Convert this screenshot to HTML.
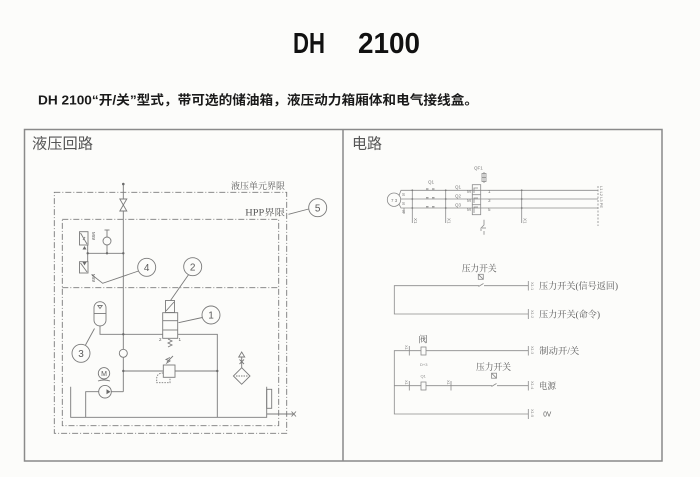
<!DOCTYPE html>
<html><head><meta charset="utf-8">
<style>
html,body{margin:0;padding:0;background:#fcfcfa;}
svg{display:block;}
</style></head>
<body>
<svg width="700" height="477" viewBox="0 0 700 477" xmlns="http://www.w3.org/2000/svg">
<rect width="700" height="477" fill="#fcfcfa"/>
<!-- Title -->
<text x="293" y="53" font-family="Liberation Sans, sans-serif" font-weight="bold" font-size="29" fill="#111" textLength="32" lengthAdjust="spacingAndGlyphs">DH</text>
<text x="358" y="53" font-family="Liberation Sans, sans-serif" font-weight="bold" font-size="29" fill="#111" textLength="62" lengthAdjust="spacingAndGlyphs">2100</text>
<!-- Subtitle -->
<text x="38" y="104.5" font-family="Liberation Sans, Noto Sans CJK SC, sans-serif" font-weight="bold" font-size="13" fill="#1a1a1a" textLength="440" lengthAdjust="spacingAndGlyphs">DH 2100“开/关”型式，带可选的储油箱，液压动力箱厢体和电气接线盒。</text>

<!-- Frame -->
<rect x="24.5" y="129.5" width="637.5" height="331.5" fill="none" stroke="#8a8a8a" stroke-width="1.5"/>
<line x1="343" y1="129.5" x2="343" y2="461" stroke="#8a8a8a" stroke-width="1.5"/>
<text x="32" y="148.3" font-family="Noto Sans CJK SC, sans-serif" font-size="15" fill="#555" textLength="61" lengthAdjust="spacingAndGlyphs">液压回路</text>
<text x="352" y="148.3" font-family="Noto Sans CJK SC, sans-serif" font-size="15" fill="#555" textLength="30" lengthAdjust="spacingAndGlyphs">电路</text>

<!-- ============ HYDRAULIC ============ -->
<g stroke="#7a7a7a" stroke-width="0.9" fill="none">
  <rect x="54.3" y="192.3" width="232.4" height="241" stroke-dasharray="6,2,1,2"/>
  <rect x="62.3" y="219.3" width="216.4" height="206.4" stroke-dasharray="6,2,1,2"/>
  <line x1="62.3" y1="287.7" x2="278.7" y2="287.7" stroke-dasharray="6,2,1,2"/>
  <circle cx="317.7" cy="207.7" r="9"/>
  <line x1="308.7" y1="209" x2="288.5" y2="214.3"/>
  <line x1="123.3" y1="184" x2="123.3" y2="199"/>
  <line x1="123.3" y1="211" x2="123.3" y2="391.7"/>
  <polygon points="119.8,199 126.8,199 123.3,205" fill="#fcfcfa"/>
  <polygon points="119.8,211 126.8,211 123.3,205" fill="#fcfcfa"/>
  <line x1="87.7" y1="253.3" x2="123.3" y2="253.3"/>
  <rect x="79.5" y="231.7" width="8.5" height="13.3"/>
  <line x1="80.5" y1="233" x2="87" y2="244"/>
  <line x1="83" y1="240" x2="85" y2="237"/>
  <line x1="87.7" y1="245" x2="87.7" y2="261.7"/>
  <rect x="79.5" y="261.7" width="8.5" height="11.3"/>
  <line x1="80.5" y1="263" x2="87" y2="272"/>
  <line x1="104.5" y1="230" x2="109.5" y2="230"/>
  <line x1="107" y1="230" x2="107" y2="237"/>
  <circle cx="107" cy="241" r="4"/>
  <line x1="107" y1="245" x2="107" y2="253.3"/>
  <circle cx="146.7" cy="267.3" r="9"/>
  <polyline points="138.5,271 102.7,283.3 91.5,274.5"/>
  <circle cx="192.7" cy="266.7" r="9"/>
  <line x1="188.5" y1="274.8" x2="170.5" y2="300.5"/>
  <rect x="165.5" y="300.5" width="9" height="12"/>
  <line x1="166" y1="311" x2="174" y2="302"/>
  <rect x="162.7" y="312.7" width="15" height="25.6" fill="#fcfcfa"/>
  <line x1="162.7" y1="320.7" x2="177.7" y2="320.7"/>
  <line x1="162.7" y1="330" x2="177.7" y2="330"/>
  <polyline points="168,339 172,341 168,343 172,345 168,347"/>
  <circle cx="211" cy="315" r="9"/>
  <line x1="202.3" y1="317.5" x2="178.5" y2="322.7"/>
  <rect x="94" y="301.7" width="12" height="24.3" rx="6" ry="6"/>
  <line x1="94" y1="313.5" x2="106" y2="313.5"/>
  <polygon points="97.8,305.5 102.2,305.5 100,308.5"/>
  <polyline points="100,326 100,334.3 162.7,334.3"/>
  <circle cx="81" cy="353.3" r="9"/>
  <line x1="85.5" y1="345" x2="94.5" y2="328.5"/>
  <polyline points="177.7,334.3 217.3,334.3 217.3,417.3"/>
  <circle cx="123.3" cy="353.3" r="4" fill="#fcfcfa"/>
  <line x1="123.3" y1="371" x2="163.3" y2="371"/>
  <line x1="175" y1="371" x2="217.3" y2="371"/>
  <rect x="163.3" y="365" width="11.7" height="12.3"/>
  <polyline points="166,363.5 170,361 166,359.5 170,357.5"/>
  <line x1="167" y1="362" x2="173" y2="356"/>
  <path d="M163.3,373 Q157,373 156.7,378.3 L156.7,382.7 L170,382.7 L170,377.3" stroke-dasharray="1.5,1.2"/>
  <circle cx="104" cy="373.3" r="5.7"/>
  <path d="M98,381 Q104,379 110,381"/>
  <circle cx="105" cy="391.7" r="6.3"/>
  <line x1="111.3" y1="391.7" x2="123.3" y2="391.7"/>
  <polyline points="98.7,391.7 85.7,391.7 85.7,417.3"/>
  <polyline points="70.7,386.7 70.7,417.3 266.7,417.3 266.7,386.7"/>
  <rect x="266.7" y="389.3" width="5" height="19"/>
  <line x1="266.7" y1="414" x2="293" y2="414"/>
  <line x1="291.5" y1="411.5" x2="296" y2="416.5"/>
  <line x1="291.5" y1="416.5" x2="296" y2="411.5"/>
  <polygon points="241.7,367.7 250,376 241.7,384.3 233.4,376"/>
  <line x1="236" y1="376" x2="247.5" y2="376" stroke-dasharray="1.5,1"/>
  <line x1="241.7" y1="367.7" x2="241.7" y2="357"/>
  <polygon points="238.7,357 244.7,357 241.7,352"/>
  <line x1="239.5" y1="359.5" x2="244" y2="364"/>
  <line x1="244" y1="359.5" x2="239.5" y2="364"/>
</g>
<g fill="#6a6a6a" stroke="none">
  <circle cx="123.3" cy="184" r="1.3"/>
  <circle cx="87.7" cy="253.3" r="1.2"/>
  <circle cx="107" cy="253.3" r="1.2"/>
  <circle cx="123.3" cy="253.3" r="1.2"/>
  <circle cx="123.3" cy="334.3" r="1.2"/>
  <circle cx="123.3" cy="371" r="1.2"/>
  <circle cx="217.3" cy="371" r="1.2"/>
  <polygon points="82.5,249.5 86.5,249.5 84.5,246"/>
  <polygon points="82.5,262 86.5,262 84.5,265.5"/>
  <polygon points="106.5,389.2 110.5,391.7 106.5,394.2"/>
</g>
<g font-family="Liberation Serif, Noto Serif CJK SC, serif" fill="#5a5a5a">
  <text x="231" y="189" font-size="9" textLength="54" lengthAdjust="spacingAndGlyphs">液压单元界限</text>
  <text x="245.3" y="215.5" font-size="9" textLength="39.7" lengthAdjust="spacingAndGlyphs">HPP界限</text>
  <text x="317.7" y="211.3" font-size="10" text-anchor="middle" font-family="Liberation Sans, sans-serif">5</text>
  <text x="146.7" y="270.9" font-size="10" text-anchor="middle" font-family="Liberation Sans, sans-serif">4</text>
  <text x="192.7" y="270.3" font-size="10" text-anchor="middle" font-family="Liberation Sans, sans-serif">2</text>
  <text x="211" y="318.6" font-size="10" text-anchor="middle" font-family="Liberation Sans, sans-serif">1</text>
  <text x="81" y="356.9" font-size="10" text-anchor="middle" font-family="Liberation Sans, sans-serif">3</text>
  <text x="104" y="376" font-size="7" text-anchor="middle" font-family="Liberation Sans, sans-serif">M</text>
  <text x="159" y="341" font-size="4.5" font-family="Liberation Sans, sans-serif">2</text>
  <text x="178.5" y="341" font-size="4.5" font-family="Liberation Sans, sans-serif">1</text>
  <text x="90" y="234" font-size="4.5" font-family="Liberation Sans, sans-serif" transform="rotate(90 92 234)">MW</text>
  <text x="90" y="276" font-size="4.5" font-family="Liberation Sans, sans-serif" transform="rotate(90 92 276)">MW</text>
</g>

<!-- ============ ELECTRICAL ============ -->
<g stroke="#8a8a8a" stroke-width="0.8" fill="none">
  <circle cx="394" cy="199.7" r="6.7"/>
  <polyline points="399,195.5 401,190.3 598,190.3"/>
  <line x1="400.7" y1="199" x2="598" y2="199"/>
  <polyline points="399,204 401,208 598,208"/>
  <line x1="412.3" y1="190.3" x2="412.3" y2="223"/>
  <line x1="445.7" y1="190.3" x2="445.7" y2="223"/>
  <line x1="521.7" y1="190.3" x2="521.7" y2="223"/>
  <line x1="404" y1="208" x2="404" y2="214"/>
  <rect x="472.3" y="184.7" width="8.4" height="30"/>
  <line x1="472.3" y1="194.7" x2="480.7" y2="194.7"/>
  <line x1="472.3" y1="204.7" x2="480.7" y2="204.7"/>
  <path d="M474,193 L474,188 L478,188"/>
  <path d="M474,203 L474,198 L478,198"/>
  <path d="M474,213 L474,207 L478,207"/>
  <rect x="482" y="173.5" width="4" height="8"/>
  <line x1="482" y1="177.5" x2="486" y2="177.5"/>
  <line x1="484" y1="172" x2="484" y2="183"/>
  <polyline points="484,219.7 484,225 481,228 481,231"/>
  <line x1="484" y1="231" x2="484" y2="234.7"/>
  <line x1="482" y1="228" x2="486" y2="228"/>
  <line x1="598" y1="186" x2="598" y2="226" stroke-dasharray="2,1.5"/>
</g>
<g fill="#7a7a7a" stroke="none">
  <rect x="426" y="188.5" width="2.5" height="1"/><rect x="432" y="188.5" width="2.5" height="1"/>
  <rect x="426" y="197.3" width="2.5" height="1"/><rect x="432" y="197.3" width="2.5" height="1"/>
  <rect x="426" y="206.3" width="2.5" height="1"/><rect x="432" y="206.3" width="2.5" height="1"/>
  <circle cx="412.3" cy="190.3" r="0.9"/><circle cx="412.3" cy="199" r="0.9"/><circle cx="412.3" cy="208" r="0.9"/>
  <circle cx="445.7" cy="190.3" r="0.9"/><circle cx="445.7" cy="199" r="0.9"/><circle cx="445.7" cy="208" r="0.9"/>
  <circle cx="521.7" cy="190.3" r="0.9"/><circle cx="521.7" cy="199" r="0.9"/><circle cx="521.7" cy="208" r="0.9"/>
</g>
<g font-family="Liberation Sans, sans-serif" fill="#777" font-size="4.5">
  <text x="391" y="202">7 3</text>
  <text x="402" y="196">S</text>
  <text x="402" y="205">S</text>
  <text x="402" y="213">S</text>
  <text x="428" y="183.5">Q1</text>
  <text x="455" y="188.5">Q1</text>
  <text x="455" y="197.5">Q2</text>
  <text x="455" y="206.5">Q3</text>
  <text x="474" y="169.5">QF1</text>
  <text x="467" y="193">M</text>
  <text x="467" y="202">M</text>
  <text x="467" y="211">M</text>
  <text x="488" y="193">1</text>
  <text x="488" y="202">3</text>
  <text x="488" y="211">5</text>
  <text x="413" y="219" transform="rotate(90 414 219)">X1</text>
  <text x="446.5" y="219" transform="rotate(90 447.5 219)">X1</text>
  <text x="522.5" y="219" transform="rotate(90 523.5 219)">X1</text>
  <text x="599" y="187" font-size="4" transform="rotate(90 600 187)">L1 L2 L3 PE</text>
</g>

<!-- lower electrical -->
<g stroke="#8a8a8a" stroke-width="0.8" fill="none">
  <polyline points="528.3,285.7 394.3,285.7 394.3,314 528.3,314"/>
  <rect x="478.3" y="274.3" width="5" height="5"/>
  <line x1="478.3" y1="274.3" x2="483.3" y2="279.3"/>
  <polyline points="528.3,350.7 394.3,350.7 394.3,414 528.3,414"/>
  <line x1="394.3" y1="385.7" x2="528.3" y2="385.7"/>
  <rect x="421" y="347" width="5" height="8" fill="#fcfcfa"/>
  <rect x="421" y="382" width="5" height="8" fill="#fcfcfa"/>
  <rect x="491.5" y="373.2" width="5" height="5"/>
  <line x1="491.5" y1="373.2" x2="496.5" y2="378.2"/>
  <line x1="528.3" y1="281" x2="528.3" y2="290.5"/>
  <line x1="528.3" y1="309" x2="528.3" y2="319"/>
  <line x1="528.3" y1="346" x2="528.3" y2="355.5"/>
  <line x1="528.3" y1="381" x2="528.3" y2="390.5"/>
  <line x1="528.3" y1="409" x2="528.3" y2="419"/>
  <line x1="409.3" y1="346" x2="409.3" y2="355.5"/>
  <line x1="409.3" y1="381" x2="409.3" y2="390.5"/>
  <line x1="451" y1="381" x2="451" y2="390.5"/>
</g>
<g stroke="#fcfcfa" stroke-width="2.2">
  <line x1="479" y1="285.7" x2="484" y2="285.7"/>
  <line x1="492" y1="385.7" x2="497" y2="385.7"/>
</g>
<g stroke="#8a8a8a" stroke-width="0.8">
  <line x1="478.5" y1="286.5" x2="483.5" y2="283.5"/>
  <line x1="491.5" y1="386.5" x2="496.5" y2="383.5"/>
</g>
<g font-family="Liberation Sans, sans-serif" fill="#888" font-size="4">
  <text x="530" y="283" transform="rotate(90 531 283)">X1:1</text>
  <text x="530" y="311" transform="rotate(90 531 311)">X1:2</text>
  <text x="530" y="347" transform="rotate(90 531 347)">X1:3</text>
  <text x="530" y="382" transform="rotate(90 531 382)">X1:4</text>
  <text x="530" y="410" transform="rotate(90 531 410)">X1:5</text>
  <text x="404" y="346" transform="rotate(90 405 346)">X1</text>
  <text x="404" y="381" transform="rotate(90 405 381)">X1</text>
  <text x="446" y="381" transform="rotate(90 447 381)">X1</text>
  <text x="420" y="366">D+3</text>
  <text x="420.5" y="377.5">Q1</text>
</g>
<g font-family="Liberation Serif, Noto Serif CJK SC, serif" fill="#5a5a5a" font-size="9">
  <text x="461.7" y="271.5" textLength="35" lengthAdjust="spacingAndGlyphs">压力开关</text>
  <text x="539" y="289" textLength="79" lengthAdjust="spacingAndGlyphs">压力开关(信号返回)</text>
  <text x="539" y="317.3" textLength="61" lengthAdjust="spacingAndGlyphs">压力开关(命令)</text>
  <text x="418.5" y="342.5" textLength="9" lengthAdjust="spacingAndGlyphs">阀</text>
  <text x="539.3" y="354" textLength="40" lengthAdjust="spacingAndGlyphs">制动开/关</text>
  <text x="476" y="370" textLength="35" lengthAdjust="spacingAndGlyphs">压力开关</text>
  <text x="539" y="389" textLength="17" lengthAdjust="spacingAndGlyphs">电源</text>
  <text x="543.3" y="416.5" font-size="7" font-family="Liberation Sans, sans-serif" textLength="8" lengthAdjust="spacingAndGlyphs">0V</text>
</g>
</svg>
</body></html>
